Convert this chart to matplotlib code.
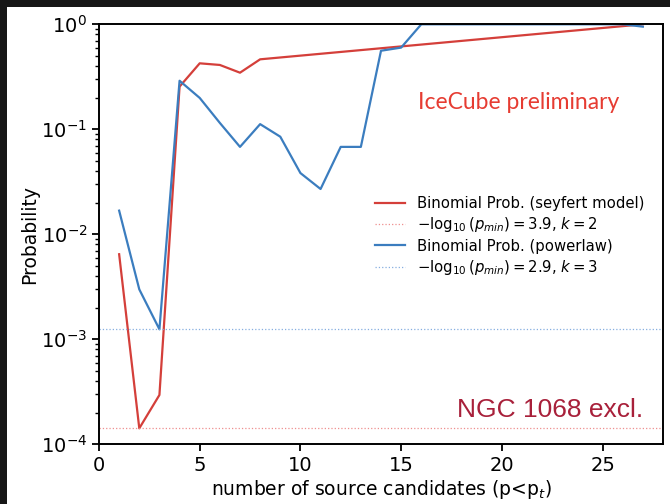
import matplotlib.pyplot as plt
from matplotlib.patches import Rectangle

# number of source candidates
n_seyfert = [1, 2, 3, 4, 5, 6, 7, 8, 27]
p_seyfert = [0.00646, 1.42e-4, 2.95e-4, 0.255, 0.425, 0.41, 0.346, 0.464, 1.0]

n_powerlaw = list(range(1, 28))
p_powerlaw = [0.0168, 0.00299, 1.245e-3, 0.29, 0.199, 0.115, 0.068, 0.112, 0.085,
              0.0383, 0.027, 0.068, 0.068, 0.56, 0.60, 1.0, 1.0, 1.0, 1.0, 1.0,
              1.0, 1.0, 1.0, 1.0, 1.0, 1.0, 0.95]

pmin_seyfert = 1.42e-4
pmin_powerlaw = 1.245e-3
label_seyfert_min = r'$-\log_{10}(p_{min}) = 3.9$, $k = 2$'
label_powerlaw_min = r'$-\log_{10}(p_{min}) = 2.9$, $k = 3$'

red = '#d43f3a'
blue = '#3b7dbf'

fig = plt.figure(figsize=(6.7, 5.04), dpi=100, facecolor='#161616')
fig.patches.append(Rectangle((7 / 670, 0), 1, 1 - 7 / 504, transform=fig.transFigure,
                             facecolor='white', edgecolor='none', zorder=-5))
ax = fig.add_axes([99 / 670, 1 - 444.3 / 504, (663 - 99) / 670, (444.3 - 24.3) / 504])
ax.set_facecolor('none')

ax.plot(n_seyfert, p_seyfert, color=red, lw=1.6, label='Binomial Prob. (seyfert model)')
ax.axhline(pmin_seyfert, color='#ef8f8f', lw=0.9, ls=':', label=label_seyfert_min)
ax.plot(n_powerlaw, p_powerlaw, color=blue, lw=1.6, label='Binomial Prob. (powerlaw)')
ax.axhline(pmin_powerlaw, color='#86aee0', lw=0.9, ls=':', label=label_powerlaw_min)

ax.set_yscale('log')
ax.set_ylim(1e-4, 1)
ax.set_xlim(0, 28)
ax.set_xticks([0, 5, 10, 15, 20, 25])
ax.tick_params(labelsize=14, width=1.3, length=5)
ax.tick_params(which='minor', width=1.0, length=3)
for s in ax.spines.values():
    s.set_linewidth(1.4)

ax.set_xlabel(r'number of source candidates (p<p$_t$)', fontsize=13.5, labelpad=2)
ax.set_ylabel('Probability', fontsize=13.5, labelpad=1)

ax.legend(loc='center left', bbox_to_anchor=(0.466, 0.495), frameon=False, fontsize=10.7,
          handlelength=2.0, labelspacing=0.3)

ax.text(0.566, 0.798, 'IceCube preliminary', transform=ax.transAxes, color='#e63c32',
        fontsize=16.5, family='Lato', ha='left', va='baseline')
ax.text(0.965, 0.065, 'NGC 1068 excl.', transform=ax.transAxes, color='#a8203a',
        fontsize=19, family='Liberation Sans', ha='right', va='baseline')

fig.savefig('out.png', dpi=100, facecolor=fig.get_facecolor())
